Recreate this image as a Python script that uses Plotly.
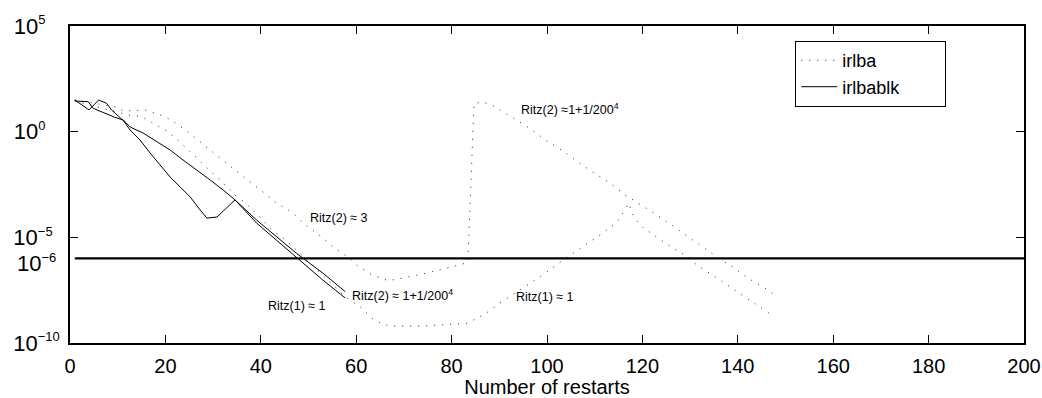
import plotly.graph_objects as go

# ---------------- data ----------------
# irlbablk (solid) – two Ritz residual curves (log10 of residual)
blk_a_x = [1, 4, 6, 7.7, 8.7, 10.5, 11.2, 12.6, 14.7, 16.8, 18.9, 21.0, 23.1, 25.2, 27.3, 28.7,
           30.8, 32.9, 34.6, 39.1, 47.5, 53.0, 57.7]
blk_a_y = [1.50, 1.03, 1.50, 1.34, 1.03, 0.63, 0.52, 0.08, -0.40, -1.01, -1.58, -2.15, -2.62, -3.09,
           -3.71, -4.09, -4.04, -3.57, -3.23, -4.32, -5.98, -7.02, -7.87]
blk_b_x = [1, 3.8, 4.9, 7.3, 9.4, 11.2, 12.6, 15.3, 18.2, 21.0, 23.7, 26.6, 29.4, 32.1, 34.6,
           39.1, 43.3, 47.5, 53.0, 57.7]
blk_b_y = [1.45, 1.42, 1.10, 0.87, 0.68, 0.55, 0.22, -0.06, -0.49, -0.87, -1.34, -1.81, -2.29,
           -2.76, -3.23, -4.18, -4.97, -5.76, -6.69, -7.57]

# irlba (dotted) – Ritz(1)
irl1_x = [1, 12.2, 15.0, 16.8, 18.5, 20.3, 21.8, 23.3, 24.8, 26.2, 27.6, 29.1, 30.5, 32.0, 33.5,
          34.9, 36.5, 37.9, 39.4, 42.3, 44.7, 46.8, 49.3, 57.7, 60.8, 63.6, 65.6, 67.4, 73.4,
          81.4, 83.2, 85.3, 87.0, 90.1, 94.8, 98.5, 103.4, 108.4, 111.7, 114.7, 115.9, 117.2,
          117.8, 118.8, 120.2, 121.9, 125.1, 128.6, 131.7, 135.2, 138.4, 141.9, 145.0, 146.8]
irl1_y = [1.45, 0.79, 0.71, 0.47, 0.27, 0.03, -0.24, -0.55, -0.84, -1.15, -1.47, -1.78, -2.10,
          -2.42, -2.73, -3.05, -3.32, -3.63, -3.94, -4.65, -5.03, -5.46, -5.99, -7.81, -8.28,
          -8.88, -9.12, -9.20, -9.20, -9.12, -9.07, -8.83, -8.63, -8.11, -7.40, -6.88, -6.07,
          -5.32, -4.80, -4.28, -3.85, -3.39, -3.86, -4.21, -4.55, -4.81, -5.32, -5.80, -6.36,
          -6.86, -7.34, -7.86, -8.36, -8.63]

# irlba (dotted) – Ritz(2)
irl2_x = [1, 9.4, 11.2, 14.0, 15.9, 17.8, 19.6, 21.4, 23.1, 24.7, 26.2, 27.7, 29.4, 30.9, 32.5,
          34.0, 35.6, 37.3, 38.8, 40.3, 41.9, 43.3, 45.1, 46.8, 48.6, 50.5, 52.8, 55.1, 58.3,
          60.0, 63.3, 66.7, 69.8, 74.8, 79.0, 82.5, 83.4, 84.7, 86.4, 88.1, 89.9, 91.6, 93.3,
          95.0, 96.9, 100.0, 103.4, 106.5, 109.9, 113.2, 116.4, 119.1, 122.4, 125.8, 129.1,
          132.5, 135.6, 139.0, 142.1, 145.7, 147.4]
irl2_y = [1.50, 1.18, 0.98, 1.02, 1.02, 0.87, 0.74, 0.52, 0.27, 0.0, -0.29, -0.58, -0.87, -1.15,
          -1.42, -1.71, -2.00, -2.29, -2.54, -2.81, -3.11, -3.39, -3.61, -3.85, -4.28, -4.61,
          -4.99, -5.46, -5.93, -6.31, -6.78, -7.05, -6.93, -6.69, -6.45, -6.26, -6.20, 1.33,
          1.40, 1.31, 1.07, 0.84, 0.60, 0.36, 0.08, -0.44, -0.92, -1.44, -1.96, -2.43, -3.00,
          -3.38, -3.85, -4.37, -4.89, -5.41, -5.93, -6.41, -6.93, -7.40, -7.68]

tol_x = [1, 200]
tol_value = 1e-6
tol_label = "10<sup><span style='font-size:13px'>\u22126</span></sup>"

x_ticks = [0, 20, 40, 60, 80, 100, 120, 140, 160, 180, 200]
y_tickvals = [1e-10, 1e-5, 1e0, 1e5]
y_exponents = ["\u221210", "\u22125", "0", "5"]
y_pad = [0, 2, 4, 4]

FONT = "Liberation Sans, Arial, Helvetica, sans-serif"
DOT = "1px,7px"

y_ticktext = ["10<sup><span style='font-size:13px'>%s%s</span></sup>" % (e, "\u00a0" * p)
              for e, p in zip(y_exponents, y_pad)]


def p10(v):
    return [10 ** e for e in v]


fig = go.Figure()
fig.add_trace(go.Scatter(x=irl1_x, y=p10(irl1_y), mode="lines", name="irlba",
                         line=dict(color="#222222", width=1, dash=DOT)))
fig.add_trace(go.Scatter(x=irl2_x, y=p10(irl2_y), mode="lines", name="irlba", showlegend=False,
                         line=dict(color="#222222", width=1, dash=DOT)))
fig.add_trace(go.Scatter(x=blk_a_x, y=p10(blk_a_y), mode="lines",
                         name="irlbablk" + "\u00a0" * 8,
                         line=dict(color="black", width=1)))
fig.add_trace(go.Scatter(x=blk_b_x, y=p10(blk_b_y), mode="lines", name="irlbablk", showlegend=False,
                         line=dict(color="black", width=1)))
fig.add_trace(go.Scatter(x=tol_x, y=[tol_value, tol_value], mode="lines", showlegend=False,
                         line=dict(color="black", width=2.2)))

ann_font = dict(family=FONT, size=12.5, color="black")
annotations = [
    dict(x=49.9, y=-4.09, text="Ritz(2) \u2248 3"),
    dict(x=41.1, y=-8.27, text="Ritz(1) \u2248 1"),
    dict(x=58.7, y=-7.75, text="Ritz(2) \u2248 1+1/200<sup>4</sup>"),
    dict(x=93.1, y=-7.81, text="Ritz(1) \u2248 1"),
    dict(x=94.1, y=1.05, text="Ritz(2) \u22481+1/200<sup>4</sup>"),
]
for a in annotations:
    a.update(xref="x", yref="y", showarrow=False, font=ann_font,
             xanchor="left", yanchor="middle")
# label of the tolerance line, drawn just left of the axis
annotations.append(dict(xref="paper", yref="y", x=-0.0125, y=-6, yshift=-5,
                        text=tol_label, showarrow=False, xanchor="right", yanchor="middle",
                        font=dict(family=FONT, size=22, color="black")))

fig.update_layout(
    width=1042, height=398,
    margin=dict(l=70, r=18, t=26, b=55),
    paper_bgcolor="white", plot_bgcolor="white",
    font=dict(family=FONT, size=20, color="black"),
    showlegend=True,
    legend=dict(x=0.76, y=0.953, xanchor="left", yanchor="top",
                bgcolor="white", bordercolor="black", borderwidth=1.2,
                font=dict(family=FONT, size=18, color="black"),
                tracegroupgap=0, itemwidth=36),
    annotations=annotations,
    xaxis=dict(range=[0, 200], tickvals=x_ticks, ticks="inside", ticklen=8,
               tickcolor="black", tickwidth=1, showline=True, linecolor="black",
               linewidth=1.5, mirror="allticks", showgrid=False, zeroline=False,
               automargin=False, ticklabelstandoff=4,
               tickfont=dict(size=20),
               title=dict(text="Number of restarts", font=dict(size=20), standoff=7)),
    yaxis=dict(type="log", range=[-10, 5], tickvals=y_tickvals, ticktext=y_ticktext,
               ticks="inside", ticklen=8, tickcolor="black", tickwidth=1,
               showline=True, linecolor="black", linewidth=1.5, mirror="allticks",
               showgrid=False, zeroline=False, automargin=False, ticklabelstandoff=4,
               tickfont=dict(size=22)),
)

fig.write_html("out.html")
